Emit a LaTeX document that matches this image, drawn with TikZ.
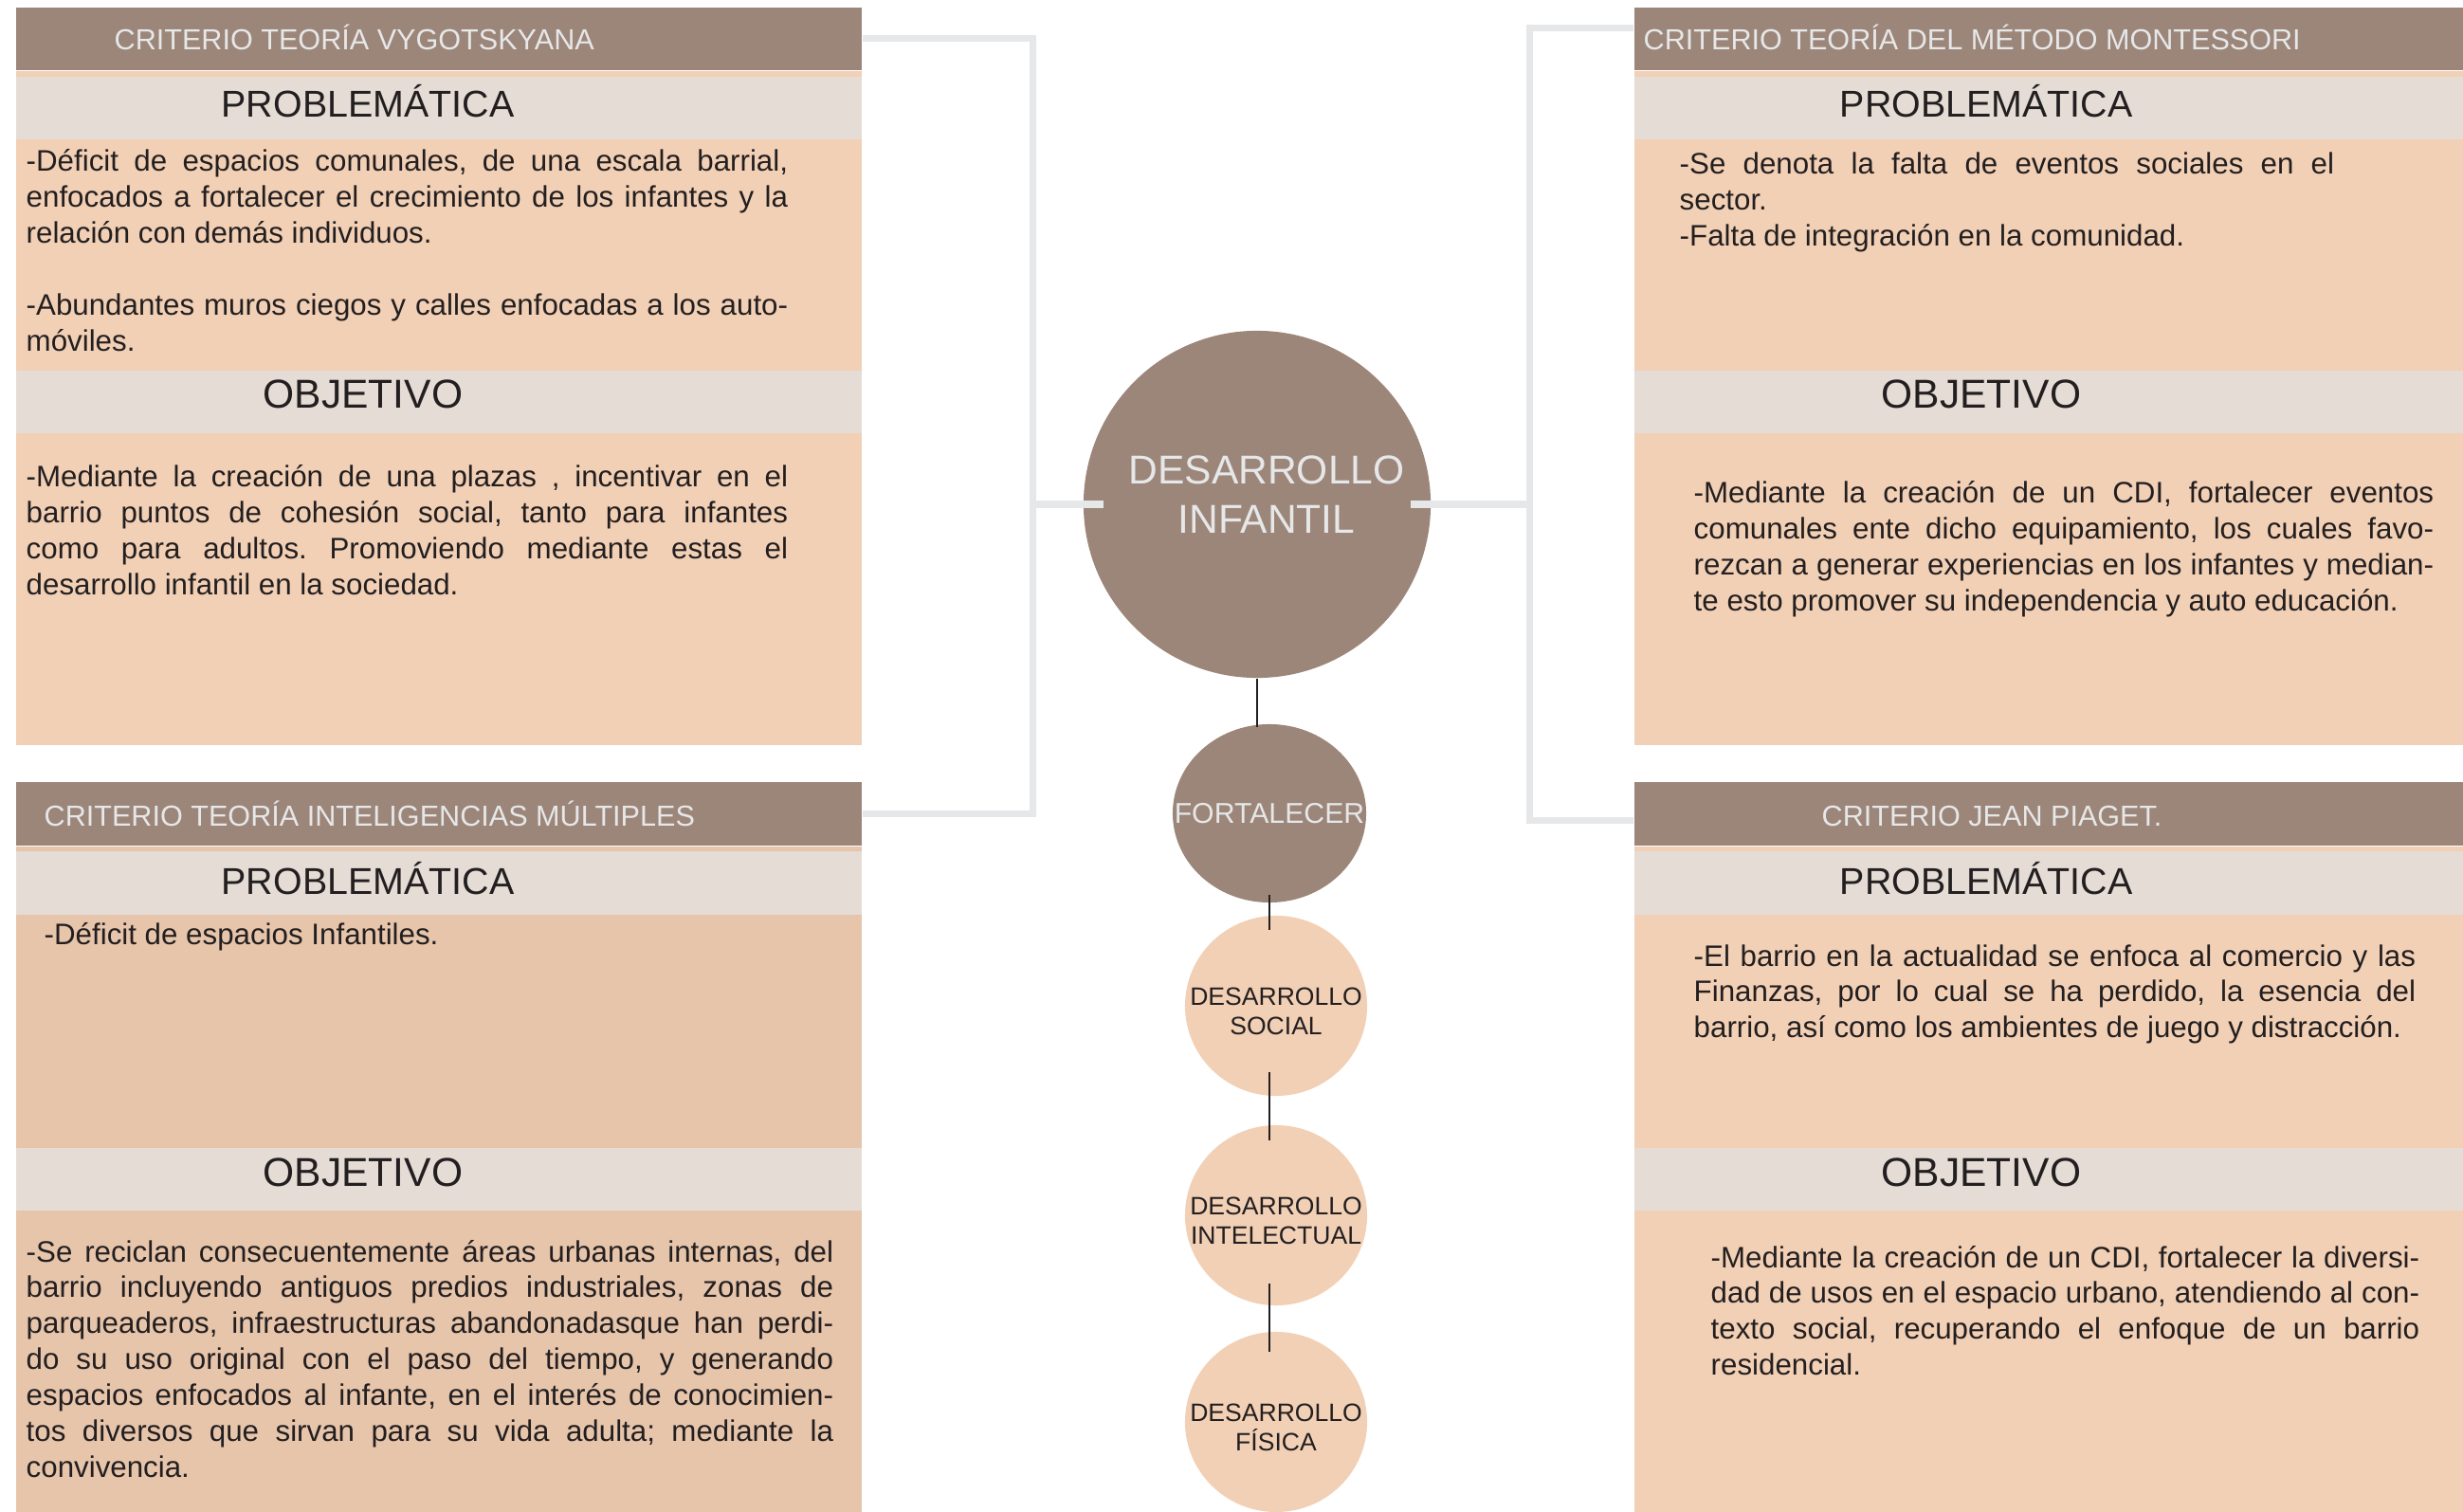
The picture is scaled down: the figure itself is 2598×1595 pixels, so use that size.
\documentclass[tikz,border=0pt]{standalone}
\usepackage{fontspec}
\setmainfont{Liberation Sans}
\usetikzlibrary{positioning, shapes.geometric}
\frenchspacing
\definecolor{taupe}{HTML}{9C8679}
\definecolor{bandgray}{HTML}{E4DCD5}
\definecolor{peach}{HTML}{F2D0B5}
\definecolor{peachdark}{HTML}{E7C5AB}
\definecolor{lightline}{HTML}{E6E7E8}
\definecolor{ink}{HTML}{231F20}
\tikzset{
  header/.style={fill=taupe, anchor=north west, minimum height=0.66cm, inner sep=0pt},
  panelbg/.style={fill=peach, inner sep=0pt},
  band/.style={fill=bandgray, minimum height=0.66cm, inner sep=0pt},
  hdrtext/.style={anchor=base west, inner sep=0pt, text=lightline,
    font=\fontsize{8.7pt}{10pt}\selectfont},
  probtitle/.style={anchor=base, inner sep=0pt, text=ink, font=\fontsize{11.2pt}{13pt}\selectfont},
  objtitle/.style={anchor=base, inner sep=0pt, text=ink, font=\fontsize{12.1pt}{14pt}\selectfont},
  bodytext/.style={anchor=base west, inner sep=0pt, text=ink, align=justify,
    font=\fontsize{8.9pt}{10.8pt}\selectfont,
    execute at begin node={\tolerance=10000\relax\hyphenpenalty=10000\relax\exhyphenpenalty=10000\relax}},
  bigdot/.style={ellipse, fill=taupe, minimum width=3.66cm, minimum height=3.66cm, inner sep=0pt},
  middot/.style={ellipse, fill=taupe, minimum width=2.04cm, minimum height=1.88cm, inner sep=0pt},
  smalldot/.style={ellipse, fill=peach, minimum width=1.92cm, minimum height=1.90cm, inner sep=0pt},
  maintext/.style={text=lightline, align=center, inner sep=0pt, xshift=0.1cm, yshift=0.1cm,
    font=\fontsize{12.1pt}{14.8pt}\selectfont},
  midtext/.style={text=lightline, inner sep=0pt, font=\fontsize{8.6pt}{10pt}\selectfont},
  dottext/.style={text=ink, align=center, inner sep=0pt, yshift=-0.06cm,
    font=\fontsize{7.55pt}{8.8pt}\selectfont},
  bracket/.style={draw=lightline, line width=2pt},
  link/.style={draw=ink, line width=0.8pt}
}
\begin{document}
\begin{tikzpicture}[x=0.01cm, y=-0.01cm]
  \useasboundingbox (0,0) rectangle (2598,1595);
  \node[header, minimum width=8.92cm] (hdrVyg) at (16,7) {};
  \node[panelbg, minimum width=8.92cm, minimum height=7.10cm, below=0pt of hdrVyg] (bgVyg) {};
  \node[band, minimum width=8.92cm, below=0.06cm of hdrVyg] (probVyg) {};
  \node[band, minimum width=8.92cm, below=2.42cm of probVyg] (objVyg) {};
  \node[hdrtext] (tVyg) at (120,53) {CRITERIO TEORÍA VYGOTSKYANA};
  \node[probtitle] (pVyg) at (388,124) {PROBLEMÁTICA};
  \node[objtitle] (oVyg) at (383,431) {OBJETIVO};
  \node[bodytext, text width=8.03cm] (bpVyg) at (27,181) {-Déficit de espacios comunales, de una escala barrial,\linebreak enfocados a fortalecer el crecimiento de los infantes y la\linebreak relación con demás individuos.\\[10.8pt]-Abundantes muros ciegos y calles enfocadas a los auto-\linebreak móviles.};
  \node[bodytext, text width=8.03cm] (boVyg) at (27,514) {-Mediante la creación de una plazas , incentivar en el\linebreak barrio puntos de cohesión social, tanto para infantes\linebreak como para adultos. Promoviendo mediante estas el\linebreak desarrollo infantil en la sociedad.};

  \node[header, minimum width=8.75cm] (hdrMon) at (1723,7) {};
  \node[panelbg, minimum width=8.75cm, minimum height=7.10cm, below=0pt of hdrMon] (bgMon) {};
  \node[band, minimum width=8.75cm, below=0.06cm of hdrMon] (probMon) {};
  \node[band, minimum width=8.75cm, below=2.42cm of probMon] (objMon) {};
  \node[hdrtext] (tMon) at (1733,53) {CRITERIO TEORÍA DEL MÉTODO MONTESSORI};
  \node[probtitle] (pMon) at (2095,124) {PROBLEMÁTICA};
  \node[objtitle] (oMon) at (2090,431) {OBJETIVO};
  \node[bodytext, text width=6.90cm] (bpMon) at (1771,184) {-Se denota la falta de eventos sociales en el\linebreak sector.\\-Falta de integración en la comunidad.};
  \node[bodytext, text width=7.80cm] (boMon) at (1786,531) {-Mediante la creación de un CDI, fortalecer eventos\linebreak comunales ente dicho equipamiento, los cuales favo-\linebreak rezcan a generar experiencias en los infantes y median-\linebreak te esto promover su independencia y auto educación.};

  \node[header, minimum width=8.92cm, minimum height=0.67cm] (hdrMul) at (16,824) {};
  \node[panelbg, fill=peachdark, minimum width=8.92cm, minimum height=7.04cm, below=0pt of hdrMul] (bgMul) {};
  \node[band, minimum width=8.92cm, minimum height=0.67cm, below=0.05cm of hdrMul] (probMul) {};
  \node[band, minimum width=8.92cm, below=2.44cm of probMul] (objMul) {};
  \node[hdrtext] (tMul) at (46,871) {CRITERIO TEORÍA INTELIGENCIAS MÚLTIPLES};
  \node[probtitle] (pMul) at (388,943) {PROBLEMÁTICA};
  \node[objtitle] (oMul) at (383,1251) {OBJETIVO};
  \node[bodytext, text width=8.51cm] (bpMul) at (46,996) {-Déficit de espacios Infantiles.};
  \node[bodytext, text width=8.51cm] (boMul) at (27,1331) {-Se reciclan consecuentemente áreas urbanas internas, del\linebreak barrio incluyendo antiguos predios industriales, zonas de\linebreak parqueaderos, infraestructuras abandonadasque han perdi-\linebreak do su uso original con el paso del tiempo, y generando\linebreak espacios enfocados al infante, en el interés de conocimien-\linebreak tos diversos que sirvan para su vida adulta; mediante la\linebreak convivencia.};

  \node[header, minimum width=8.75cm, minimum height=0.67cm] (hdrPia) at (1723,824) {};
  \node[panelbg, minimum width=8.75cm, minimum height=7.04cm, below=0pt of hdrPia] (bgPia) {};
  \node[band, minimum width=8.75cm, minimum height=0.67cm, below=0.05cm of hdrPia] (probPia) {};
  \node[band, minimum width=8.75cm, below=2.44cm of probPia] (objPia) {};
  \node[hdrtext] (tPia) at (1921,871) {CRITERIO JEAN PIAGET.};
  \node[probtitle] (pPia) at (2095,943) {PROBLEMÁTICA};
  \node[objtitle] (oPia) at (2090,1251) {OBJETIVO};
  \node[bodytext, text width=7.61cm] (bpPia) at (1786,1019) {-El barrio en la actualidad se enfoca al comercio y las\linebreak Finanzas, por lo cual se ha perdido, la esencia del\linebreak barrio, así como los ambientes de juego y distracción.};
  \node[bodytext, text width=7.47cm] (boPia) at (1804,1337) {-Mediante la creación de un CDI, fortalecer la diversi-\linebreak dad de usos en el espacio urbano, atendiendo al con-\linebreak texto social, recuperando el enfoque de un barrio\linebreak residencial.};

  \node[bigdot, label={[maintext]center:DESARROLLO\\INFANTIL}] (infantil) at (1326,532) {};
  \node[middot, label={[midtext]center:FORTALECER}] (fortalecer) at (1339,858) {};
  \node[smalldot, label={[dottext]center:DESARROLLO\\SOCIAL}] (social) at (1346,1061) {};
  \node[smalldot, label={[dottext]center:DESARROLLO\\INTELECTUAL}] (intelectual) at (1346,1282) {};
  \node[smalldot, label={[dottext]center:DESARROLLO\\FÍSICA}] (fisica) at (1346,1500) {};

  \coordinate (jointL) at (1089,532);
  \coordinate (jointR) at (1613,532);
  \draw[bracket] (hdrVyg.east) -| (jointL) |- (hdrMul.east);
  \draw[bracket] (jointL) -- ([xshift=0.22cm]infantil.west);
  \draw[bracket] ([yshift=0.11cm]hdrMon.west) -| (jointR) |- ([yshift=-0.075cm]hdrPia.west);
  \draw[bracket] (jointR) -- ([xshift=-0.22cm]infantil.east);

  \draw[link, shorten >=-0.04cm] (infantil.south) -- (infantil.south |- fortalecer.north);
  \draw[link, shorten <=-0.09cm, shorten >=-0.16cm] (fortalecer.south) -- (fortalecer.south |- social.north);
  \draw[link, shorten <=-0.26cm, shorten >=-0.17cm] (social.south -| fortalecer.south) -- (intelectual.north -| fortalecer.south);
  \draw[link, shorten <=-0.24cm, shorten >=-0.22cm] (intelectual.south -| fortalecer.south) -- (fisica.north -| fortalecer.south);
\end{tikzpicture}
\end{document}
